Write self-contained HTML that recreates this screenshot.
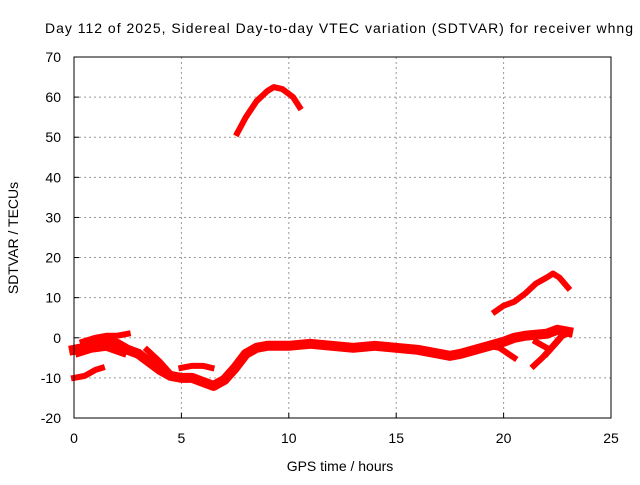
<!DOCTYPE html>
<html><head><meta charset="utf-8"><style>
body{margin:0;background:#fff;width:640px;height:480px;overflow:hidden;font-family:"Liberation Sans",sans-serif}
text{font-family:"Liberation Sans",sans-serif;font-size:14px;fill:#000}
</style></head><body>
<svg id="chart" width="640" height="480" xmlns="http://www.w3.org/2000/svg">
<text x="45" y="33" textLength="588" lengthAdjust="spacing">Day 112 of 2025, Sidereal Day-to-day VTEC variation (SDTVAR) for receiver whng</text>
<text x="340" y="471" text-anchor="middle">GPS time / hours</text>
<text transform="translate(18,238) rotate(-90)" text-anchor="middle">SDTVAR / TECUs</text>
<g id="grid"></g>
<g id="ticks"></g>
<g id="series"></g>
<rect x="74" y="57" width="537" height="361" fill="none" stroke="#000" stroke-width="1"/>
</svg>
<script>
const xTicks=[0,5,10,15,20,25];
const yTicks=[-20,-10,0,10,20,30,40,50,60,70];
const mainBand=[[0,-3],[0.5,-2.5],[1,-1.5],[1.5,-1],[2,-1.5],[2.5,-3],[3,-4],[3.5,-6],[4,-8],[4.5,-9.5],[5,-10],[5.5,-10],[6,-11],[6.5,-12],[7,-10.5],[7.5,-7.5],[8,-4],[8.5,-2.5],[9,-2],[10,-2],[11,-1.5],[12,-2],[13,-2.5],[14,-2],[15,-2.5],[16,-3],[17,-4],[17.5,-4.5],[18,-4],[19,-2.5],[20,-1],[20.5,0],[21,0.5],[22,1],[22.5,2],[23,1.5]];
const earlyLow=[[0,-10],[0.5,-9.5],[1,-8],[1.3,-7.5]];
const earlyHigh=[[0.4,-1],[1,0],[1.5,0.5],[2,0.5],[2.5,1]];
const earlyMid=[[0.2,-4],[0.8,-3],[1.5,-2.5],[2.3,-4]];
const midBranch=[[5,-7.5],[5.5,-7],[6,-7],[6.4,-7.5]];
const steepBranch=[[3.4,-3],[4,-6],[4.5,-9]];
const topArc=[[7.6,51],[8,55],[8.5,59],[9,61.5],[9.3,62.5],[9.7,62],[10.2,60],[10.5,57.5]];
const rightRise=[[19.6,6.5],[20,8],[20.5,9],[21,11],[21.5,13.5],[22,15],[22.3,16],[22.6,15],[23,12.5]];
const lateDrop=[[19.3,-2],[19.8,-2.5],[20.5,-5]];
const loopA=[[21.4,-7],[21.8,-5],[22.3,-2],[22.7,0.5],[23,1]];
const loopB=[[22,-4],[22.5,-1],[22.9,1.5]];
const loopC=[[21.5,-1],[22,-2.5]];
const allSeries=[mainBand,earlyLow,earlyHigh,earlyMid,midBranch,steepBranch,topArc,rightRise,lateDrop,loopA,loopB,loopC];
const X=v=>74+v*537/25, Y=v=>418-(v+20)*361/90;
const NS="http://www.w3.org/2000/svg";
const g=document.getElementById('grid'),t=document.getElementById('ticks'),s=document.getElementById('series');
function mk(tag,a,p){const e=document.createElementNS(NS,tag);for(const k in a)e.setAttribute(k,a[k]);p.appendChild(e);return e;}
xTicks.forEach(v=>{
 if(v>0&&v<25){const l=mk('line',{x1:X(v),x2:X(v),y1:57,y2:418,stroke:'#999','stroke-dasharray':'2,3'},g);
 
 }
 const tk=mk('text',{x:X(v),y:443,'text-anchor':'middle'},t);tk.textContent=v;
 
 
 mk('line',{x1:X(v),x2:X(v),y1:418,y2:413,stroke:'#000'},t);
});
yTicks.forEach(v=>{
 if(v>-20&&v<70){const l=mk('line',{x1:74,x2:611,y1:Y(v),y2:Y(v),stroke:'#999','stroke-dasharray':'2,3'},g);
 
 }
 const tk=mk('text',{x:61,y:Y(v)+5,'text-anchor':'end'},t);tk.textContent=v;
 
 
 mk('line',{x1:74,x2:79,y1:Y(v),y2:Y(v),stroke:'#000'},t);
});
allSeries.forEach((ser,i)=>{
 const p=mk('polyline',{points:ser.map(d=>X(d[0])+','+Y(d[1])).join(' '),fill:'none',stroke:'#f00','stroke-width':i===0?10:6,'stroke-linejoin':'round','stroke-linecap':'square'},s);
 
 
});
</script>
</body></html>
